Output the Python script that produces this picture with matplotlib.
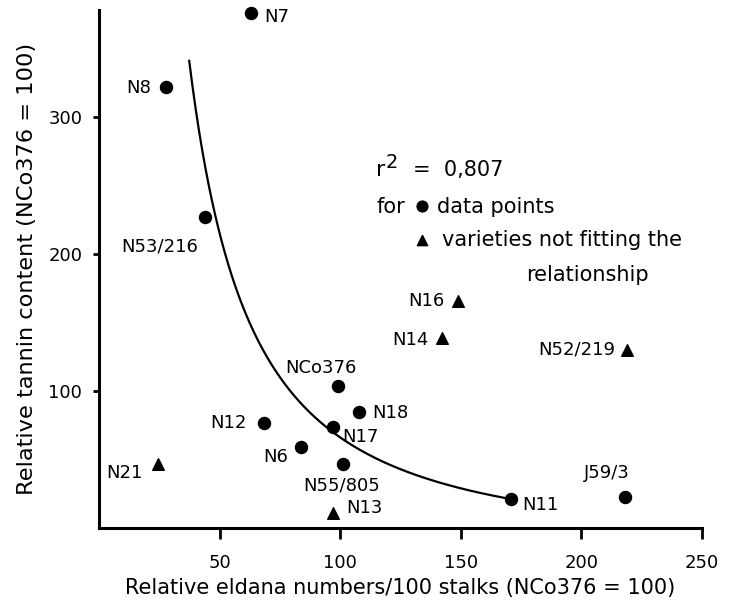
import numpy as np
import matplotlib
matplotlib.use("Agg")
import matplotlib.pyplot as plt

plt.rcParams['font.family'] = ['DejaVu Sans']

# varieties fitting the relationship (circles)
fit_names = ["N7", "N8", "N53/216", "NCo376", "N18", "N12", "N17", "N6", "N55/805", "N11", "J59/3"]
fit_x = [63, 27.9, 44, 99, 107.7, 68.6, 97, 83.6, 101, 171, 218]
fit_y = [376, 322, 227, 104, 85, 77, 74, 59, 47, 21, 23]

# varieties not fitting the relationship (triangles)
out_names = ["N21", "N13", "N16", "N14", "N52/219"]
out_x = [24.5, 97, 149, 142, 219]
out_y = [47, 11, 166, 139, 130]

# fitted curve y = a * x^b + c, drawn over x range of the fit
curve_a, curve_b, curve_c = 81500, -1.5, -15.4
curve_xmin, curve_xmax = 37.4, 171

# label offsets in pixels (dx, dy, ha)
label_pos = {
    "N7": (13, -4, "left"), "N8": (-15, -1, "right"), "N53/216": (-7, -30, "right"),
    "NCo376": (-17, 18, "center"), "N18": (13, -1, "left"), "N12": (-18, 0, "right"),
    "N17": (9, -10, "left"), "N6": (-13, -10, "right"), "N55/805": (-1, -22, "center"),
    "N11": (11, -6, "left"), "J59/3": (-18, 24, "center"),
    "N21": (-15, -9, "right"), "N13": (13, 5, "left"), "N16": (-14, 0, "right"),
    "N14": (-13, -2, "right"), "N52/219": (-12, 0, "right"),
}

fig = plt.figure(figsize=(7.35, 6.11), dpi=100)
ax = fig.add_axes([0.1347, 0.1358, 0.8204, 0.8478])

xc = np.linspace(curve_xmin, curve_xmax, 300)
ax.plot(xc, curve_a * xc ** curve_b + curve_c, color="black", lw=1.6)

ax.scatter(fit_x, fit_y, s=75, marker="o", color="black", clip_on=False, zorder=3)
ax.scatter(out_x, out_y, s=70, marker="^", color="black", clip_on=False, zorder=3)

for n, x, y in zip(fit_names + out_names, fit_x + out_x, fit_y + out_y):
    dx, dy, ha = label_pos[n]
    ax.annotate(n, (x, y), xytext=(dx, dy), textcoords="offset pixels",
                ha=ha, va="center", fontsize=13)

# legend text
ax.text(115, 261, "r", fontsize=16, va="center")
ax.text(118.8, 267, "2", fontsize=14, va="center")
ax.text(130, 261, "=  0,807", fontsize=15, va="center")
ax.text(115, 234, "for", fontsize=15, va="center")
ax.scatter([133.9], [235], s=60, marker="o", color="black")
ax.text(140, 234, "data points", fontsize=15, va="center")
ax.scatter([133.9], [210.5], s=55, marker="^", color="black")
ax.text(142, 210, "varieties not fitting the", fontsize=15, va="center")
ax.text(177, 185, "relationship", fontsize=15, va="center")

ax.set_xlim(0, 250)
ax.set_ylim(0, 378)
ax.set_xticks([50, 100, 150, 200, 250])
ax.set_yticks([100, 200, 300])
ax.spines["top"].set_visible(False)
ax.spines["right"].set_visible(False)
ax.spines["left"].set_linewidth(2.2)
ax.spines["bottom"].set_linewidth(2.2)
ax.tick_params(axis="x", length=8, width=2, pad=11, labelsize=13)
ax.tick_params(axis="y", length=4, width=2, pad=8, labelsize=13)
ax.set_xlabel("Relative eldana numbers/100 stalks (NCo376 = 100)", fontsize=15, labelpad=4)
ax.set_ylabel("Relative tannin content (NCo376 = 100)", fontsize=16.2, labelpad=8)

fig.savefig("out.png", dpi=100)
